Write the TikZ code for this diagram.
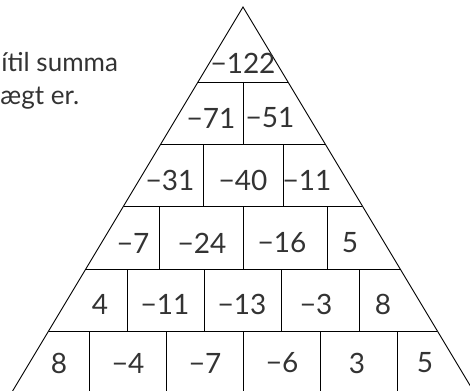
\documentclass[tikz,border=0pt]{standalone}
\usepackage{fontspec}
\setmainfont{Lato}
\definecolor{txtgray}{HTML}{333333}
\tikzset{
  num/.style={font=\fontsize{28}{30}\selectfont, text=txtgray},
  txt/.style={font=\fontsize{26}{30}\selectfont, text=txtgray, anchor=base west, inner sep=0pt}
}
\begin{document}
\begin{tikzpicture}[x=1pt,y=-1pt,line width=0.9pt]
\useasboundingbox (0,0) rectangle (470,390);
\clip (0,0) rectangle (470,390);

\node[txt] (t1) at (1,72) {ítil summa};
\node[txt] (t2) at (0,105) {ægt er.};

% pyramid and row lines
\coordinate (top) at (243,7);
\coordinate (bl) at (11.4,393);
\coordinate (br) at (474.6,393);
\draw (bl) -- (top) -- (br);
\draw (198,82) -- (288,82);
\draw (160.8,144) -- (325.2,144);
\draw (123.6,206) -- (362.4,206);
\draw (85.8,269) -- (400.2,269);
\draw (48.6,331) -- (437.4,331);

% cell walls
\draw (243,82) -- (243,144);
\draw (203,144) -- (203,206);
\draw (283,144) -- (283,206);
\draw (159,206) -- (159,269);
\draw (243,206) -- (243,269);
\draw (327,206) -- (327,269);
\draw (127,269) -- (127,331);
\draw (204,269) -- (204,331);
\draw (281,269) -- (281,331);
\draw (359,269) -- (359,331);
\draw (89,331) -- (89,393);
\draw (166,331) -- (166,393);
\draw (243,331) -- (243,393);
\draw (320,331) -- (320,393);
\draw (397,331) -- (397,393);

\node[num] (a1) at (243,63) {−122};

\node[num] (b1) at (211,118) {−71};
\node[num] (b2) at (270,118) {−51};

\node[num] (c1) at (170,180) {−31};
\node[num] (c2) at (243,180) {−40};
\node[num] (c3) at (307,180) {−11};

\node[num] (d1) at (133,243) {−7};
\node[num] (d2) at (202,243) {−24};
\node[num] (d3) at (282,243) {−16};
\node[num] (d4) at (350,243) {5};

\node[num] (e1) at (100,304) {4};
\node[num] (e2) at (165,304) {−11};
\node[num] (e3) at (242,304) {−13};
\node[num] (e4) at (316,304) {−3};
\node[num] (e5) at (383,304) {8};

\node[num] (f1) at (59,363) {8};
\node[num] (f2) at (128,363) {−4};
\node[num] (f3) at (205,363) {−7};
\node[num] (f4) at (282,363) {−6};
\node[num] (f5) at (357,363) {3};
\node[num] (f6) at (425,363) {5};
\end{tikzpicture}
\end{document}
